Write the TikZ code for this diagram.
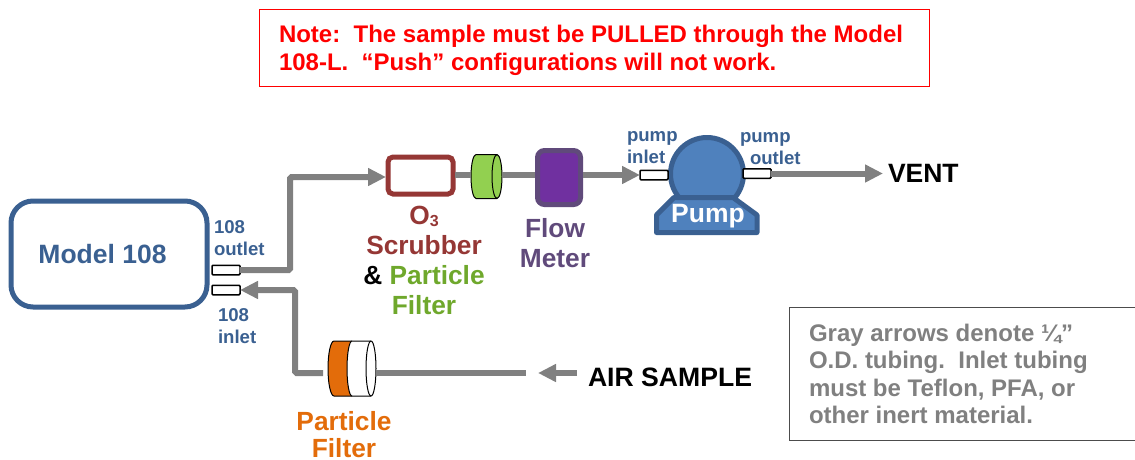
\documentclass[tikz,border=0pt]{standalone}
\usepackage{fontspec}
\setmainfont{Liberation Sans}
\usetikzlibrary{arrows.meta}
\definecolor{mblue}{HTML}{3A6091}
\definecolor{pblue}{HTML}{4F81BD}
\definecolor{tube}{HTML}{808080}
\definecolor{scrub}{HTML}{953735}
\definecolor{fgreen}{HTML}{92D050}
\definecolor{tgreen}{HTML}{6FA82C}
\definecolor{fpurple}{HTML}{7030A0}
\definecolor{tpurple}{HTML}{604A7B}
\definecolor{orange}{HTML}{E36C0A}
\newcommand{\fsz}[2]{\fontsize{#1}{#2}\selectfont\bfseries}
\tikzset{
  every node/.style={inner sep=0pt,outer sep=0pt},
  port/.style={draw=black,fill=white,line width=1.5pt,rounded corners=1pt,minimum width=28pt,minimum height=9.5pt},
  tubeline/.style={draw=tube,line width=6pt,rounded corners=1.5pt},
  tubearrow/.style={tubeline,-{Triangle[length=18pt,width=17pt]}},
  smalllabel/.style={text=mblue,font=\fsz{18.6}{22},align=left,anchor=west},
  biglabel/.style={font=\fsz{26.3}{30},align=center},
}
\begin{document}
\begin{tikzpicture}[x=1pt,y=-1pt]
\useasboundingbox (0,0) rectangle (1135,459);
% note
\node[draw=red,line width=1pt,minimum width=670pt,minimum height=77pt] (note) at (594,48) {};
\node[text=red,font=\fsz{24}{28},align=left,anchor=west] (notetext) at (279,50) {Note:\ \ The sample must be PULLED through the Model\\108-L.\ \ “Push” configurations will not work.};
% model
\node[draw=mblue,line width=5pt,fill=white,rounded corners=22pt,minimum width=196pt,minimum height=106pt] (model) at (109,254) {};
\node[text=mblue,font=\fsz{26.5}{30}] (modeltext) at (102.5,254) {Model 108};
\node[port] (outlet) at (226,270) {};
\node[port] (inlet) at (226,290) {};
\node[smalllabel] (outlab) at (214,238) {108\\outlet};
\node[smalllabel] (inlab) at (218,326) {108\\inlet};
% scrubber
\node[draw=scrub,line width=5pt,fill=white,rounded corners=5pt,minimum width=65pt,minimum height=37pt] (scrubber) at (420.5,175.5) {};
\coordinate (scrubin) at (386,177);
\coordinate (scrubout) at (455,175);
\coordinate (greenw) at (471,175);
\coordinate (greene) at (502,175);
\fill[fgreen] (476,154.5) -- (497,154.5) arc[start angle=90,end angle=-90,x radius=5pt,y radius=22pt] -- (476,198.5) arc[start angle=270,end angle=90,x radius=5pt,y radius=22pt] -- cycle;
\draw[black,line width=1pt] (476,154.5) -- (497,154.5) arc[start angle=90,end angle=-90,x radius=5pt,y radius=22pt] -- (476,198.5) arc[start angle=270,end angle=90,x radius=5pt,y radius=22pt] -- cycle;
\draw[black,line width=1pt] (497,154.5) arc[start angle=90,end angle=270,x radius=5pt,y radius=22pt];
\node[draw=tpurple,fill=fpurple,line width=5pt,rounded corners=7pt,minimum width=43pt,minimum height=54pt] (meter) at (559,177.5) {};
\coordinate (meterw) at (535,175);
\coordinate (metere) at (583,175);
% pump
\node[circle,draw=mblue,fill=pblue,line width=5pt,minimum size=73pt] (pump) at (707,174) {};
\draw[mblue,fill=pblue,line width=5pt,line join=round] (674,197.5) -- (733,197.5) -- (757,215) -- (757,232.5) -- (656.5,232.5) -- (656.5,215) -- cycle;
\node[text=white,font=\fsz{26.5}{30}] (pumplab) at (708,216) {Pump};
\node[port] (pin) at (654,175) {};
\node[port] (pout) at (757,173.5) {};
\node[smalllabel] (pinlab) at (627,147.5) {pump\\inlet};
\node[smalllabel] (poutlab) at (740,148.5) {pump\\\hspace*{10pt}outlet};
\coordinate (vent) at (883,173.5);
\node[font=\fsz{26.5}{30},anchor=west] (venttext) at (888,173) {VENT};
% particle filter
\coordinate (pfw) at (323,373);
\coordinate (pfe) at (376,373);
\coordinate (tubeend) at (526,373);
\coordinate (airstart) at (577,373);
\coordinate (airtip) at (538,373);
\fill[orange] (352,341) -- (334,341) arc[start angle=90,end angle=270,x radius=6pt,y radius=27.5pt] -- (352,396) arc[start angle=270,end angle=90,x radius=5pt,y radius=27.5pt] -- cycle;
\draw[black,line width=1pt] (352,341) -- (334,341) arc[start angle=90,end angle=270,x radius=6pt,y radius=27.5pt] -- (352,396);
\draw[black,fill=white,line width=1pt] (352,341) -- (371,341) arc[start angle=90,end angle=-90,x radius=5pt,y radius=27.5pt] -- (352,396) arc[start angle=270,end angle=90,x radius=5pt,y radius=27.5pt] -- cycle;
\draw[black,line width=1pt] (371,341) arc[start angle=90,end angle=270,x radius=5pt,y radius=27.5pt];
\node[font=\fsz{26.6}{30},anchor=west] (air) at (588,377) {AIR SAMPLE};
% labels
\node[biglabel,text=scrub] (o3) at (424,230) {O\raisebox{-2pt}{\fontsize{16}{16}\selectfont 3}\\Scrubber};
\node[biglabel] (and) at (424,275) {\& \textcolor{tgreen}{Particle}};
\node[biglabel,text=tgreen] (ftext) at (424,305) {Filter};
\node[biglabel,text=tpurple] (fm) at (555,243) {Flow\\Meter};
\node[font=\fsz{26.3}{27},align=center,text=orange] (pf) at (344,434.5) {Particle\\Filter};
% gray box
\draw[draw=black!70,line width=1pt] (1140,307) -- (789,307) -- (789,440) -- (1140,440);
\node[text=tube,font=\fsz{24}{27.6},align=left,anchor=west] (graynote) at (809,374) {Gray arrows denote ¼”\\O.D. tubing.\ \ Inlet tubing\\must be Teflon, PFA, or\\other inert material.};
% tubes
\draw[tubearrow] (outlet.east) -- (290,270) -- (290,177) -- (scrubin);
\draw[tubeline] (scrubout) -- (greenw);
\draw[tubeline] (greene) -- (meterw);
\draw[tubearrow] (metere) -- (pin.west);
\draw[tubearrow] (pout.east) -- (vent);
\draw[tubearrow] (pfw) -- (295,373) -- (295,290) -- (inlet.east);
\draw[tubeline] (pfe) -- (tubeend);
\draw[tubearrow] (airstart) -- (airtip);
\end{tikzpicture}
\end{document}
